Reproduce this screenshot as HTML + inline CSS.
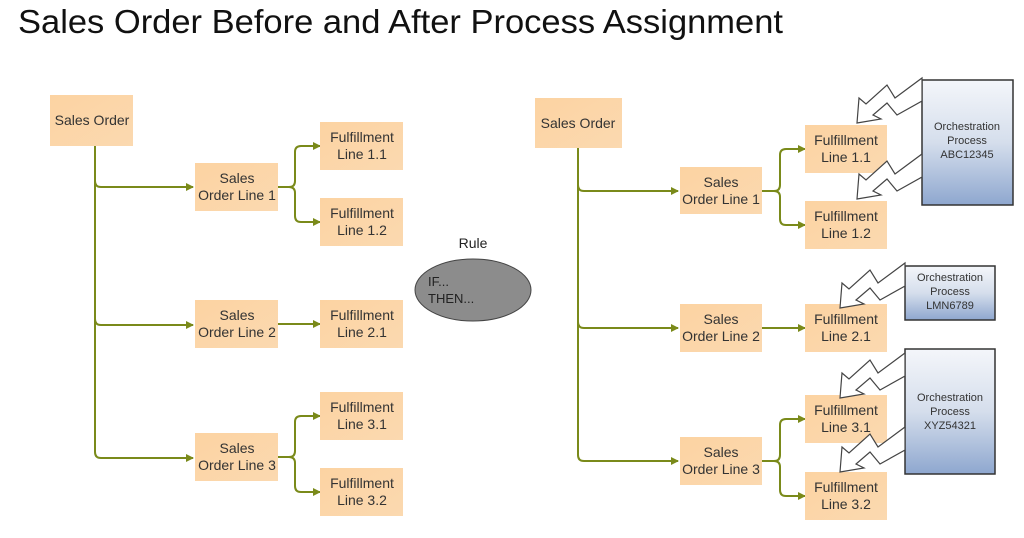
<!DOCTYPE html>
<html><head><meta charset="utf-8"><style>
html,body{margin:0;padding:0;background:#fff;}
svg{display:block;font-family:"Liberation Sans",sans-serif;}
</style></head><body>
<svg width="1024" height="538" viewBox="0 0 1024 538" xmlns="http://www.w3.org/2000/svg">
<defs>
<marker id="ar" markerWidth="8" markerHeight="8" refX="7" refY="4" orient="auto" markerUnits="userSpaceOnUse">
<path d="M0,0 L8,4 L0,8 z" fill="#7a8a1a"/></marker>
<linearGradient id="bx" x1="0" y1="0" x2="1" y2="1"><stop offset="0" stop-color="#fcd3a2"/><stop offset="1" stop-color="#fbd9b0"/></linearGradient>
<linearGradient id="bl" x1="0" y1="0" x2="0" y2="1"><stop offset="0" stop-color="#f4f6fa"/><stop offset="0.5" stop-color="#d5deec"/><stop offset="1" stop-color="#8ea7cf"/></linearGradient>
<g id="bolt"><polygon points="0,0 2,-25 9,-19 30,-38 38,-25 65,-45 65,-22 40,-8 30,-20 16,-8 24,-4" fill="#fff" stroke="#444" stroke-width="1.2" stroke-linejoin="miter"/></g>
</defs>
<text x="18" y="33" font-size="33" fill="#111" textLength="765" lengthAdjust="spacingAndGlyphs">Sales Order Before and After Process Assignment</text>

<g fill="none" stroke="#7a8a1a" stroke-width="2">
<path d="M95,146 V452 Q95,458 101,458 H193" marker-end="url(#ar)"/>
<path d="M95,181 Q95,187 101,187 H193" marker-end="url(#ar)"/>
<path d="M95,319 Q95,325 101,325 H193" marker-end="url(#ar)"/>
<path d="M278,187 H289 Q295,187 295,181 V152 Q295,146 301,146 H320" marker-end="url(#ar)"/>
<path d="M289,187 Q295,187 295,193 V216 Q295,222 301,222 H320" marker-end="url(#ar)"/>
<path d="M278,324 H320" marker-end="url(#ar)"/>
<path d="M278,457 H289 Q295,457 295,451 V422 Q295,416 301,416 H320" marker-end="url(#ar)"/>
<path d="M289,457 Q295,457 295,463 V486 Q295,492 301,492 H320" marker-end="url(#ar)"/>
<path d="M578,148 V455 Q578,461 584,461 H678" marker-end="url(#ar)"/>
<path d="M578,185 Q578,191 584,191 H678" marker-end="url(#ar)"/>
<path d="M578,322 Q578,328 584,328 H678" marker-end="url(#ar)"/>
<path d="M762,191 H774 Q780,191 780,185 V155 Q780,149 786,149 H805" marker-end="url(#ar)"/>
<path d="M774,191 Q780,191 780,197 V219 Q780,225 786,225 H805" marker-end="url(#ar)"/>
<path d="M762,328 H805" marker-end="url(#ar)"/>
<path d="M762,461 H774 Q780,461 780,455 V425 Q780,419 786,419 H805" marker-end="url(#ar)"/>
<path d="M774,461 Q780,461 780,467 V490 Q780,496 786,496 H805" marker-end="url(#ar)"/>
</g>

<g fill="url(#bx)">
<rect x="50" y="95" width="83" height="51"/>
<rect x="195" y="163" width="83" height="48"/>
<rect x="195" y="300" width="83" height="48"/>
<rect x="195" y="433" width="83" height="48"/>
<rect x="320" y="122" width="83" height="48"/>
<rect x="320" y="198" width="83" height="48"/>
<rect x="320" y="300" width="83" height="48"/>
<rect x="320" y="392" width="83" height="48"/>
<rect x="320" y="468" width="83" height="48"/>
<rect x="535" y="98" width="87" height="50"/>
<rect x="680" y="167" width="82" height="47"/>
<rect x="680" y="304" width="82" height="48"/>
<rect x="680" y="437" width="82" height="48"/>
<rect x="805" y="125" width="82" height="48"/>
<rect x="805" y="201" width="82" height="48"/>
<rect x="805" y="304" width="82" height="48"/>
<rect x="805" y="395" width="82" height="48"/>
<rect x="805" y="472" width="82" height="48"/>
</g>

<g font-size="14" fill="#333" text-anchor="middle">
<text x="92" y="125">Sales Order</text>
<text x="237" y="183">Sales</text><text x="237" y="200">Order Line 1</text>
<text x="237" y="320">Sales</text><text x="237" y="337">Order Line 2</text>
<text x="237" y="453">Sales</text><text x="237" y="470">Order Line 3</text>
<text x="362" y="142">Fulfillment</text><text x="362" y="159">Line 1.1</text>
<text x="362" y="218">Fulfillment</text><text x="362" y="235">Line 1.2</text>
<text x="362" y="320">Fulfillment</text><text x="362" y="337">Line 2.1</text>
<text x="362" y="412">Fulfillment</text><text x="362" y="429">Line 3.1</text>
<text x="362" y="488">Fulfillment</text><text x="362" y="505">Line 3.2</text>
<text x="578" y="128">Sales Order</text>
<text x="721" y="187">Sales</text><text x="721" y="204">Order Line 1</text>
<text x="721" y="324">Sales</text><text x="721" y="341">Order Line 2</text>
<text x="721" y="457">Sales</text><text x="721" y="474">Order Line 3</text>
<text x="846" y="145">Fulfillment</text><text x="846" y="162">Line 1.1</text>
<text x="846" y="221">Fulfillment</text><text x="846" y="238">Line 1.2</text>
<text x="846" y="324">Fulfillment</text><text x="846" y="341">Line 2.1</text>
<text x="846" y="415">Fulfillment</text><text x="846" y="432">Line 3.1</text>
<text x="846" y="492">Fulfillment</text><text x="846" y="509">Line 3.2</text>
<text x="473" y="248" fill="#222">Rule</text>
</g>

<ellipse cx="473" cy="290" rx="58" ry="31" fill="#8c8c8c" stroke="#444" stroke-width="1"/>
<g font-size="13" fill="#222"><text x="428" y="286">IF...</text><text x="428" y="303">THEN...</text></g>

<g stroke="#333" stroke-width="1.5" fill="url(#bl)">
<rect x="922" y="80" width="91" height="125"/>
<rect x="905" y="266" width="90" height="54"/>
<rect x="905" y="349" width="90" height="125"/>
</g>
<g font-size="11" fill="#333" text-anchor="middle">
<text x="967" y="130">Orchestration</text><text x="967" y="144">Process</text><text x="967" y="158">ABC12345</text>
<text x="950" y="281">Orchestration</text><text x="950" y="295">Process</text><text x="950" y="309">LMN6789</text>
<text x="950" y="401">Orchestration</text><text x="950" y="415">Process</text><text x="950" y="429">XYZ54321</text>
</g>

<use href="#bolt" transform="translate(857,123)"/>
<use href="#bolt" transform="translate(857,199)"/>
<use href="#bolt" transform="translate(840,308)"/>
<use href="#bolt" transform="translate(840,398)"/>
<use href="#bolt" transform="translate(840,472)"/>
</svg>
</body></html>
